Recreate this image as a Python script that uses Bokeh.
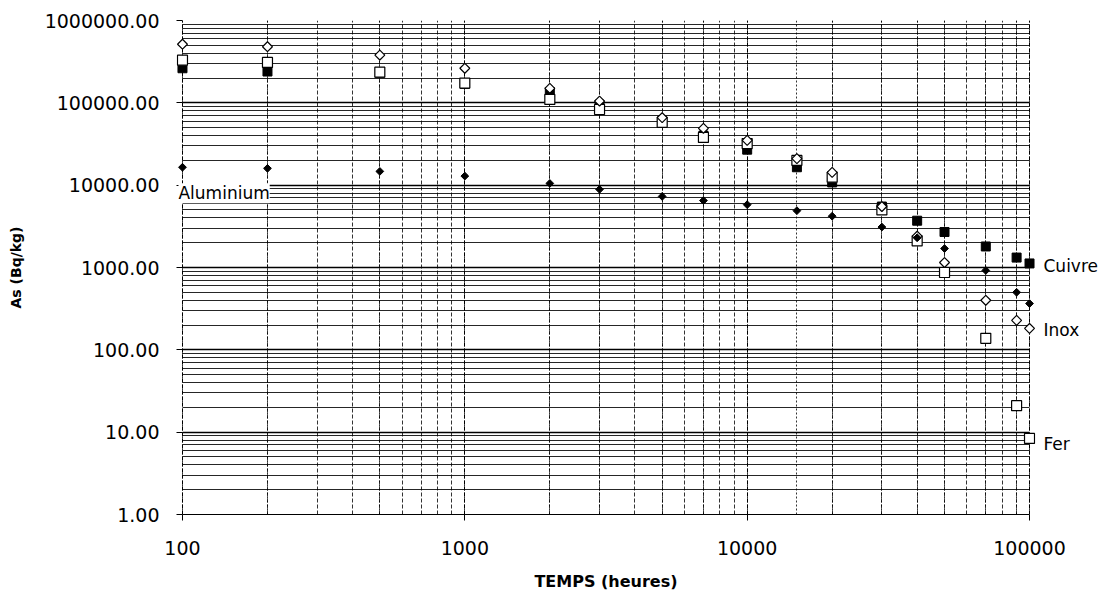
import math
from bokeh.plotting import figure
from bokeh.models import (Range1d, FixedTicker, PrintfTickFormatter, Label, Grid,
                          ColumnDataSource, LogAxis)
from bokeh.embed import file_html
from bokeh.resources import INLINE

# ---- data ----
temps = [100, 200, 500, 1000, 2000, 3000, 5000, 7000, 10000, 15000,
         20000, 30000, 40000, 50000, 70000, 90000, 100000]
aluminium = [16500, 16000, 14700, 12900, 10500, 8900, 7300, 6500, 5800, 4900,
             4200, 3100, 2300, 1700, 920, 500, 365]
cuivre = [263000, 240000, 230000, 170000, 135000, 95000, 60000, 40000, 27000, 16500,
          10800, 5500, 3700, 2700, 1800, 1320, 1120]
inox = [515000, 480000, 380000, 263000, 150000, 105000, 66000, 49000, 35000, 21000,
        14300, 5500, 2400, 1150, 400, 228, 182]
fer = [330000, 310000, 236000, 174000, 110000, 83000, 58000, 38000, 32000, 20000,
       12500, 5000, 2100, 870, 138, 21, 8.4]

x_ticks = [100, 1000, 10000, 100000]
y_ticks = [1, 10, 100, 1000, 10000, 100000, 1000000]

FONT = "DejaVu Sans"

# layout: axis span 100..100000 drawn from px 182 to 1032; frame 6 px wider on
# each side so that edge markers are not clipped
W, H = 1101, 598
FRAME_L, FRAME_R = 176, 1038
FRAME_T, FRAME_B = 20, 514
AX_L, AX_R = 182, 1032
decade_x = (AX_R - AX_L) / (math.log10(x_ticks[-1]) - math.log10(x_ticks[0]))
decade_y = (FRAME_B - FRAME_T) / (math.log10(y_ticks[-1]) - math.log10(y_ticks[0]))
x_lo = x_ticks[0] * 10 ** (-(AX_L - FRAME_L) / decade_x)
x_hi = x_ticks[-1] * 10 ** ((FRAME_R - AX_R) / decade_x)

p = figure(width=W, height=H, x_axis_type="log", y_axis_type="log",
           x_range=Range1d(x_lo, x_hi), y_range=Range1d(y_ticks[0], y_ticks[-1]),
           output_backend="svg", toolbar_location=None,
           min_border_left=FRAME_L, min_border_right=W - FRAME_R,
           min_border_top=FRAME_T, min_border_bottom=H - FRAME_B)
p.outline_line_color = None
p.background_fill_color = "white"
p.border_fill_color = "white"

x_minor = [d * m for d in x_ticks[:-1] for m in range(2, 10)]
y_minor = [d * m for d in y_ticks[:-1] for m in range(2, 10)]

p.xaxis.ticker = FixedTicker(ticks=x_ticks, minor_ticks=x_minor)
p.yaxis.ticker = FixedTicker(ticks=y_ticks, minor_ticks=y_minor)
p.xaxis.formatter = PrintfTickFormatter(format="%d")
p.yaxis.formatter = PrintfTickFormatter(format="%.2f")
p.xaxis.bounds = (x_ticks[0], x_ticks[-1])

for ax in (p.xaxis, p.yaxis):
    ax.axis_line_color = "black"
    ax.major_tick_line_color = "black"
    ax.minor_tick_line_color = None
    ax.major_label_text_font = FONT
    ax.major_label_text_font_size = "19px"
    ax.major_label_text_color = "black"
    ax.axis_label_text_font = FONT
    ax.axis_label_text_font_style = "bold"
    ax.axis_label_text_color = "black"

p.xaxis.major_tick_out = 6
p.xaxis.major_tick_in = 0
p.yaxis.axis_line_color = None
p.yaxis.major_tick_out = 0
p.yaxis.major_tick_in = AX_L - FRAME_L

p.xaxis.major_label_standoff = 20
p.yaxis.major_label_standoff = 13
p.xaxis.axis_label = "TEMPS (heures)"
p.xaxis.axis_label_text_font_size = "16px"
p.xaxis.axis_label_standoff = 14
p.yaxis.axis_label = "As (Bq/kg)"
p.yaxis.axis_label_text_font_size = "14px"
p.yaxis.axis_label_standoff = 18

p.ygrid.grid_line_color = "black"
p.ygrid.grid_line_width = 1.4
p.ygrid.minor_grid_line_color = "black"
p.ygrid.minor_grid_line_width = 1
p.ygrid.minor_grid_line_alpha = 0.85
p.ygrid.cross_bounds = (x_ticks[0], x_ticks[-1])
p.xgrid.bounds = (x_ticks[0], x_ticks[-1])
p.xgrid.grid_line_color = "black"
p.xgrid.grid_line_width = 1
p.xgrid.grid_line_dash = "4 2"
p.xgrid.minor_grid_line_color = "black"
p.xgrid.minor_grid_line_dash = "4 2"
p.xgrid.minor_grid_line_alpha = 0.8

# vertical lines through each measurement time
p.add_layout(Grid(dimension=0, ticker=FixedTicker(ticks=temps),
                  grid_line_color="black", grid_line_dash="2 2",
                  grid_line_alpha=0.8))

src = ColumnDataSource(dict(t=temps, al=aluminium, cu=cuivre, inox=inox, fer=fer))
diamond_angle = math.pi / 4

p.scatter("t", "cu", source=src, marker="square", size=9,
          fill_color="black", line_color="black")
p.scatter("t", "fer", source=src, marker="square", size=10,
          fill_color="white", line_color="black", line_width=1.2)
p.scatter("t", "inox", source=src, marker="square", angle=diamond_angle, size=7,
          fill_color="white", line_color="black", line_width=1.2)
p.scatter("t", "al", source=src, marker="square", angle=diamond_angle, size=5.5,
          fill_color="black", line_color="black")

# series name next to the first point (Aluminium, inside the plot)
p.add_layout(Label(x=temps[0], y=aluminium[0], text="Aluminium", x_offset=-4,
                   y_offset=-26, text_font=FONT, text_font_size="17px",
                   text_color="black", text_baseline="middle",
                   background_fill_color="white"))

# series names at the right end, as tick labels of a right-hand axis
end_names = {"Cuivre": cuivre[-1], "Inox": inox[-1], "Fer": fer[-1]}
end_shift_px = {"Cuivre": 3, "Inox": 2, "Fer": 6}
end_pos = {n: v * 10 ** (-end_shift_px[n] / decade_y) for n, v in end_names.items()}
right = LogAxis(ticker=FixedTicker(ticks=list(end_pos.values())),
                major_label_overrides={v: n for n, v in end_pos.items()},
                axis_line_color=None, major_tick_line_color=None,
                minor_tick_line_color=None, major_label_standoff=2,
                major_label_text_font=FONT, major_label_text_font_size="17px",
                major_label_text_color="black")
p.add_layout(right, "right")

open("out.html", "w").write(file_html(p, INLINE))
